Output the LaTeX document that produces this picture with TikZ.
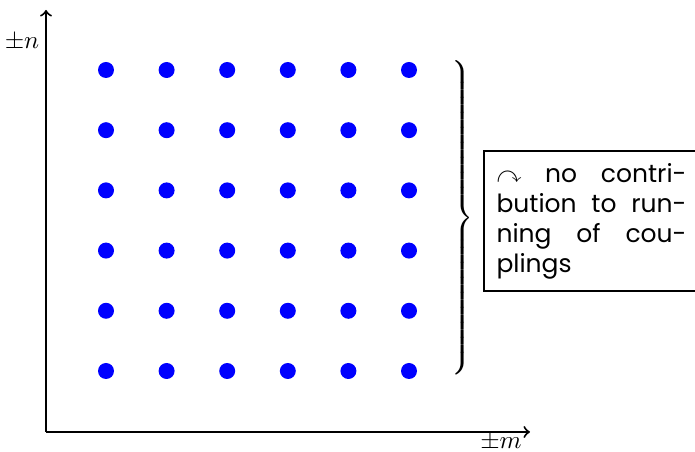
\documentclass[tikz,border=0pt]{standalone}
\usepackage{amsmath}
\usepackage{amssymb}
\usepackage{fontspec}
\setmainfont{Poppins}

\begin{document}
\begin{tikzpicture}[x=0.4pt, y=-0.4pt, every node/.style={inner sep=2pt},
  latt/.style={circle, fill=blue, inner sep=0pt, minimum size=6.4pt},
  notebox/.style={draw, thick, text width=76pt, align=justify, inner sep=5pt,
    font=\fontsize{10}{12}\selectfont}]
\useasboundingbox (0,0) rectangle (695,452);
% --- axes ---
\coordinate (o)    at (46,432);
\coordinate (ntip) at (46,10);
\coordinate (mtip) at (530,432);
\draw[thick,->] (o) -- (ntip);
\draw[thick,->] (o) -- (mtip);
\node (nlab) at (22,42)  {$\pm n$};
\node (mlab) at (501,442) {$\pm m$};
% --- lattice of modes ---
\foreach \i in {0,...,5}
  \foreach \j in {0,...,5}
    \node[latt] (d\i\j) at ({106+60.6*\i},{70+60.2*\j}) {};
% --- brace and remark ---
\node[inner sep=0pt] (brace) at (461,221) {$\left.\rule[-63pt]{0pt}{127pt}\right\}$};
\node[notebox, anchor=west] (note) at (483,221)
  {$\curvearrowright$ no contri-\linebreak bution to run-\linebreak ning of cou-\linebreak plings};
\end{tikzpicture}
\end{document}
